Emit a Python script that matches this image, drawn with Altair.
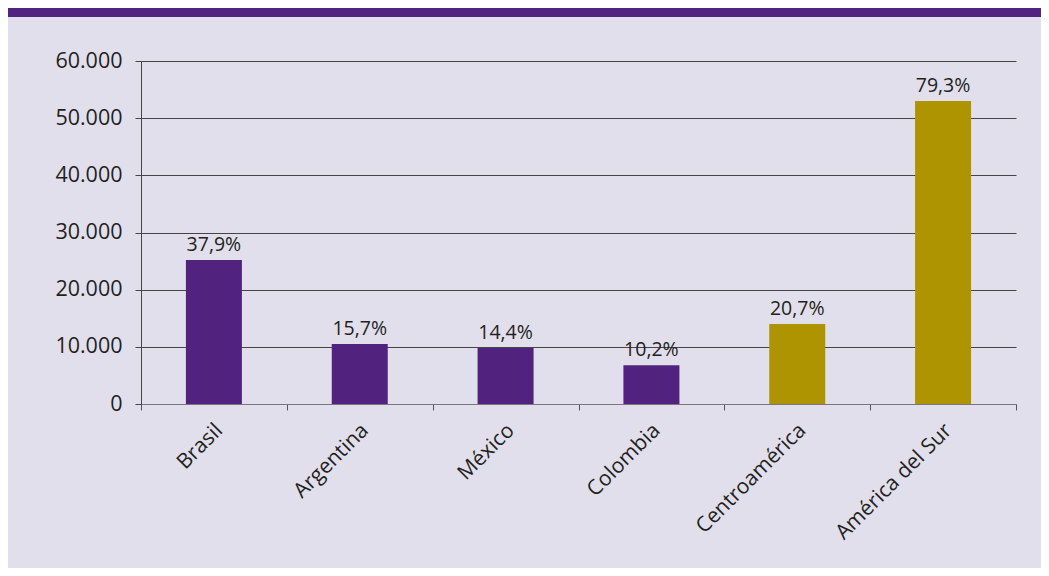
import altair as alt
import pandas as pd

categories = ["Brasil", "Argentina", "México", "Colombia", "Centroamérica", "América del Sur"]
values = [25200, 10500, 9800, 6800, 14000, 53000]
pct_labels = ["37,9%", "15,7%", "14,4%", "10,2%", "20,7%", "79,3%"]
groups = ["país", "país", "país", "país", "región", "región"]
y_ticks = [0, 10000, 20000, 30000, 40000, 50000, 60000]

df = pd.DataFrame({"cat": categories, "val": values, "lab": pct_labels, "grp": groups})

W, H = 875, 343
PAD_L, PAD_T, PAD_R, PAD_B = 133, 53, 25, 164
FONT = "Open Sans"

x_enc = alt.X(
    "cat:N", sort=categories, title=None,
    scale=alt.Scale(paddingInner=0, paddingOuter=0),
    axis=alt.Axis(labelAngle=-45, labelAlign="right", labelBaseline="middle",
                  tickBand="extent", labelPadding=17, labelOffset=5,
                  domainColor="#7a7680", tickColor="#555555", tickSize=6,
                  labelFontSize=21, labelColor="#231f20", labelFont=FONT,
                  grid=False),
)
y_enc = alt.Y(
    "val:Q", title=None,
    scale=alt.Scale(domain=[0, 60000], nice=False),
    axis=alt.Axis(values=y_ticks,
                  labelExpr="replace(format(datum.value, ','), ',', '.')",
                  grid=True, gridColor="#454545", gridWidth=1,
                  domainColor="#454545", tickColor="#454545", tickSize=6,
                  labelPadding=13, labelFontSize=21.5, labelColor="#231f20",
                  labelFont=FONT),
)

base = alt.Chart(df)

bars = base.mark_bar(width=alt.RelativeBandSize(0.384)).encode(
    x=x_enc, y=y_enc,
    color=alt.Color("grp:N", scale=alt.Scale(domain=["país", "región"],
                                             range=["#51237f", "#ae9400"]),
                    legend=None),
)

texts = base.mark_text(baseline="alphabetic", dy=-9, font=FONT, fontSize=19.5,
                       color="#231f20").encode(
    x=alt.X("cat:N", sort=categories), y=alt.Y("val:Q"), text="lab:N"
)

band = alt.Chart(pd.DataFrame({"k": [0]})).mark_rect(color="#51247f").encode(
    x=alt.value(-PAD_L), x2=alt.value(W + PAD_R),
    y=alt.value(-PAD_T), y2=alt.value(-PAD_T + 9),
)

chart = alt.layer(bars, texts, band).properties(
    width=W, height=H,
    padding={"left": PAD_L, "top": PAD_T, "right": PAD_R, "bottom": PAD_B},
    autosize=alt.AutoSizeParams(type="none"),
    background="#e2dfed",
).configure_view(stroke=None)

chart.save("out.html", embed_options={"renderer": "svg", "actions": False})
